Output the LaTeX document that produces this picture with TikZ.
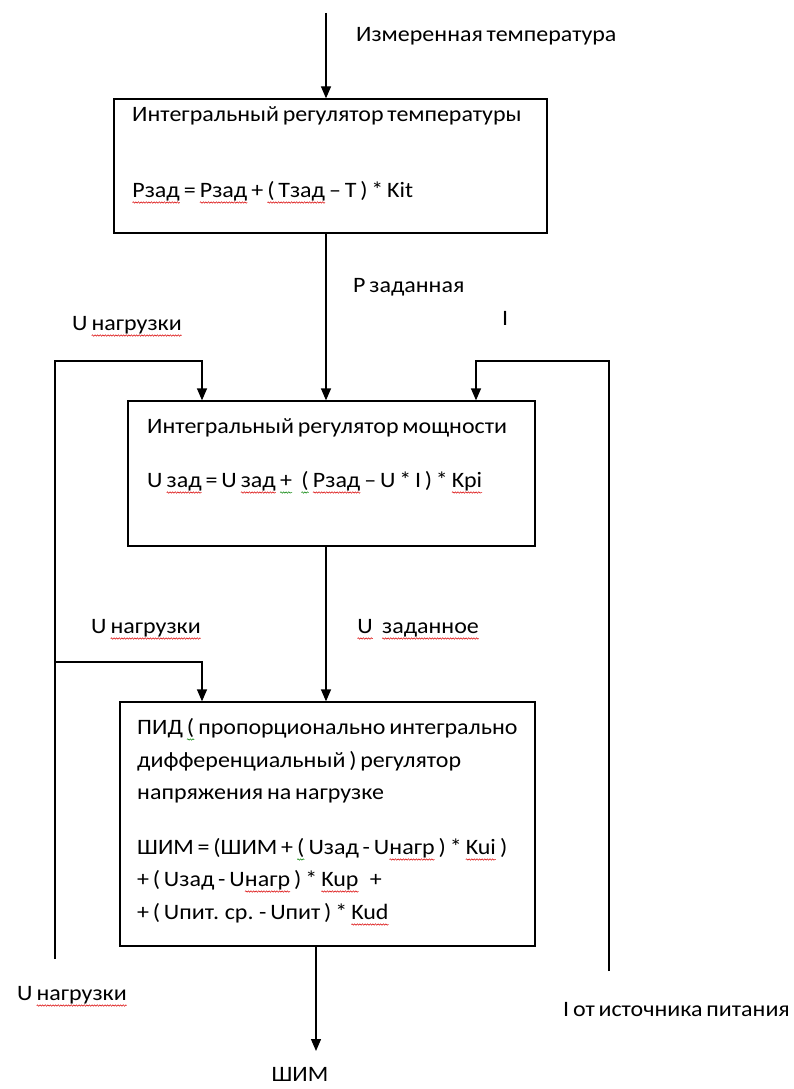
\documentclass[tikz,border=0pt]{standalone}
\usepackage{fontspec}
\setmainfont[FakeStretch=1.09, WordSpace=0.7]{Carlito}
\usetikzlibrary{arrows.meta, positioning, decorations.pathmorphing}

% spell-check squiggles under words
\tikzset{squig/.style={line width=0.5pt, decorate,
    decoration={snake, amplitude=0.7pt, segment length=2.6pt}}}
\newcommand{\spellred}[1]{\tikz[baseline=(w.base)]{\node[inner sep=0pt, outer sep=0pt] (w) {#1};
    \draw[squig, red!85!black] ([yshift=-5.5pt]w.base west) -- ([yshift=-5.5pt]w.base east);}}
\newcommand{\spellgreen}[1]{\tikz[baseline=(w.base)]{\node[inner sep=0pt, outer sep=0pt] (w) {#1};
    \draw[squig, green!50!black] ([yshift=-5.5pt]w.base west) -- ([yshift=-5.5pt]w.base east);}}

\begin{document}
\begin{tikzpicture}[x=1pt, y=-1pt, >={Triangle[width=10pt, length=12pt]},
    box/.style={draw, line width=1.3pt, inner sep=0pt},
    lbl/.style={anchor=base west, inner sep=0pt, font=\fontsize{22}{26}\selectfont},
    flow/.style={->, line width=1.3pt}]

    \useasboundingbox (0,0) rectangle (794,1089);

    % --- Regulator blocks ---
    \node[box, minimum width=433pt, minimum height=134pt] (tempbox) at (330.5,166) {};
    \node[box, minimum width=407pt, minimum height=145pt] (powerbox) at (331.5,473.5) {};
    \node[box, minimum width=415pt, minimum height=244pt] (pidbox) at (327.5,824) {};

    % --- Block texts ---
    \node[lbl] (temptitle) at (132,122) {Интегральный регулятор температуры};
    \node[lbl] (templaw) at (132,197) {\spellred{Pзад} = \spellred{Pзад} + \spellred{( Tзад} – T ) * Kit};

    \node[lbl] (powertitle) at (147,433) {Интегральный регулятор мощности};
    \node[lbl] (powerlaw) at (147,487) {U \spellred{зад} = U \spellred{зад} \spellgreen{+}\hspace{0.4em}\spellgreen{(} \spellred{Pзад} – U * I ) * \spellred{Kpi}};

    % PID text, one line per node
    \foreach \nm/\yy/\txt in {
        1/734/{ПИД \spellgreen{(} пропорционально интегрально},
        2/767/{дифференциальный ) регулятор},
        3/799/{напряжения на нагрузке},
        4/854/{ШИМ = (ШИМ + \spellgreen{(} Uзад - U\spellred{нагр} ) * \spellred{Kui} )},
        5/886/{+ ( Uзад - U\spellred{нагр} ) * \spellred{Kup}\hspace{0.5em}+},
        6/919/{+ ( Uпит. ср. - Uпит ) * \spellred{Kud}}} {
      \node[lbl] (pid\nm) at (137,\yy) {\txt};
    }

    % --- Signal labels ---
    \node[lbl] (tempin) at (356,42) {Измеренная температура};
    \node[lbl] (psetlbl) at (353,292) {P заданная};
    \node[lbl] (uloadtop) at (72,330) {U \spellred{нагрузки}};
    \node[lbl] (itop) at (502,325) {I};
    \node[lbl] (uloadmid) at (91,633) {U \spellred{нагрузки}};
    \node[lbl] (usetlbl) at (357,633) {\spellred{U}\hspace{0.4em}\spellred{заданное}};
    \node[lbl] (uloadbot) at (17,1000) {U \spellred{нагрузки}};
    \node[lbl] (isrclbl) at (563,1016) {I от источника питания};
    \node[lbl, anchor=base] (pwmlbl) at (300,1081) {ШИМ};

    % --- Main chain ---
    \coordinate (tin) at (326,13);
    \draw[flow] (tin) -- (tin |- tempbox.north);
    \draw[flow] (tin |- tempbox.south) -- (tin |- powerbox.north);
    \draw[flow] (tin |- powerbox.south) -- (tin |- pidbox.north);
    \coordinate (pwm) at (316,1051);
    \draw[flow] (pwm |- pidbox.south) -- (pwm);

    % --- Load voltage feedback (left) ---
    \coordinate (uload) at (55,959);
    \coordinate (utap) at (202,361);
    \coordinate (utapb) at (202,662);
    \draw[flow] (uload) |- (utap) -- (utap |- powerbox.north);
    \draw[flow] (uload |- utapb) -- (utapb) -- (utapb |- pidbox.north);

    % --- Supply current feedback (right) ---
    \coordinate (isrc) at (609,971);
    \coordinate (itap) at (476,361);
    \draw[flow] (isrc) |- (itap) -- (itap |- powerbox.north);

\end{tikzpicture}
\end{document}
